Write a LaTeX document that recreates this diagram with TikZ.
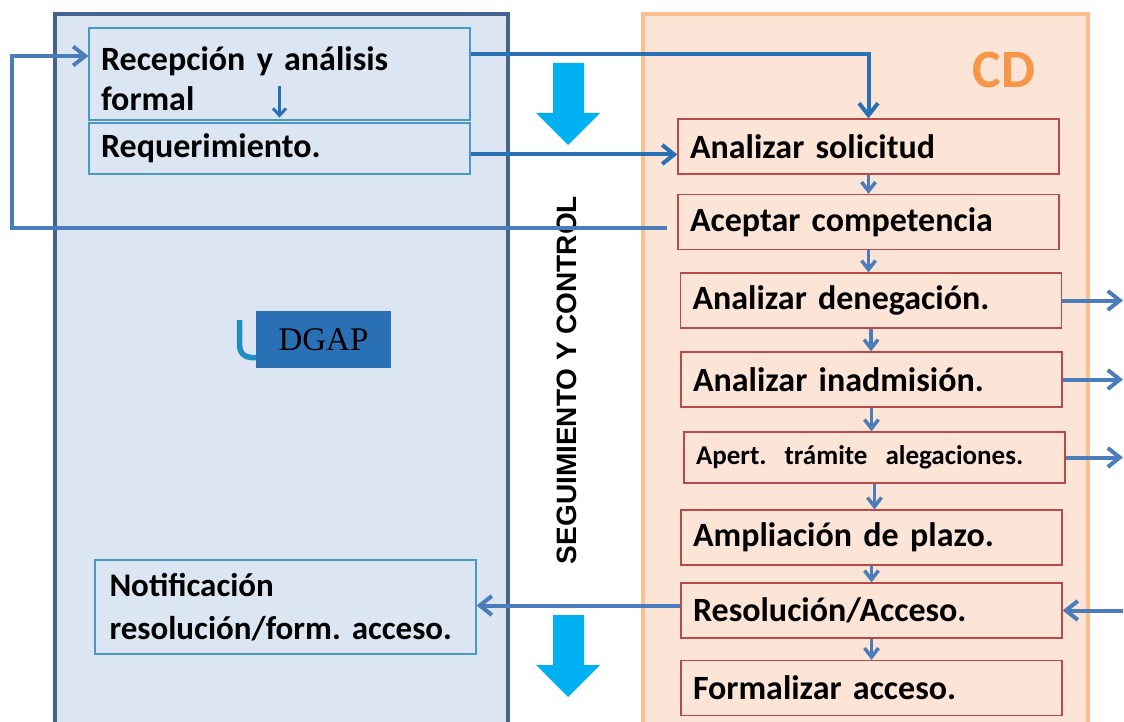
\documentclass[tikz,border=0pt]{standalone}
\usepackage{fontspec}
\setmainfont{Carlito}[WordSpace=0.75]
\newfontfamily\dgapfont{Liberation Serif}
\newfontfamily\segfont{Liberation Sans}
\usetikzlibrary{arrows.meta}
\definecolor{panelblue}{HTML}{DCE6F2}
\definecolor{paneledge}{HTML}{44648F}
\definecolor{panelpeach}{HTML}{FCE4D6}
\definecolor{peachedge}{HTML}{F9BF8F}
\definecolor{boxred}{HTML}{B94A48}
\definecolor{boxblue}{HTML}{4A98C6}
\definecolor{flowblue}{HTML}{2A70B4}
\definecolor{stepblue}{HTML}{4A7DBA}
\definecolor{cyanarrow}{HTML}{00B0F0}
\definecolor{cdorange}{HTML}{F79646}
\frenchspacing

\begin{document}
\begin{tikzpicture}[x=1pt,y=-1pt,
    cdbox/.style={draw=boxred,fill=panelpeach,line width=1.2pt,minimum height=55pt,
      text width=357pt,inner xsep=12pt,align=left,
      font=\bfseries\fontsize{34}{38}\selectfont},
    dgbox/.style={draw=boxblue,line width=1.2pt,text width=357pt,inner xsep=12pt,
      align=left,font=\bfseries\fontsize{34}{40}\selectfont},
    flow/.style={draw=flowblue,line width=4pt,-{Straight Barb[length=12pt,width=19pt]}},
    stepflow/.style={draw=stepblue,line width=4pt,-{Straight Barb[length=12pt,width=19pt]}}]
  \useasboundingbox (0,0) rectangle (1124,722);
  \clip (0,0) rectangle (1124,722);

  % panels
  \draw[paneledge,fill=panelblue,line width=4pt] (55,14) rectangle (508,760);
  \draw[peachedge,fill=panelpeach,line width=3.5pt] (643,14) rectangle (1088,760);
  \node[text=cdorange,font=\bfseries\fontsize{54}{54}\selectfont] (cd) at (1004,70) {CD};

  % DGAP
  \draw[flowblue!80!cyan,line width=5.5pt] (239.5,320) -- (239.5,346)
    arc[start angle=180,end angle=90,radius=11.5] -- (258,357.5);
  \node[fill=flowblue,minimum width=135pt,minimum height=57pt,
    font=\dgapfont\fontsize{33}{33}\selectfont] (dgap) at (323.5,339.5) {DGAP\hspace{9pt}};

  % seguimiento
  \foreach \ya in {63,615}
    \fill[cyanarrow] (553,\ya) -- ++(31,0) -- ++(0,50) -- ++(16,0) -- ++(-32,32)
      -- ++(-32,-32) -- ++(17,0) -- cycle;
  \node[rotate=90,font=\segfont\bfseries\fontsize{28}{28}\selectfont] (seg)
    at (567,380) {SEGUIMIENTO Y CONTROL};

  % DGAP boxes
  \node[dgbox,minimum height=92pt] (recep) at (279.5,74)
    {\rule{0pt}{34pt}Recepción y análisis\\formal};
  \node[dgbox,minimum height=51pt] (req) at (279.5,148.5) {Requerimiento.};
  \node[dgbox,text width=352pt,inner xsep=14.5pt,minimum height=94pt,
    font=\bfseries\fontsize{33}{43}\selectfont] (notif) at (285.5,607)
    {Notificación\\resolución/form. acceso.};

  % CD boxes
  \node[cdbox] (sol) at (868.5,146.5) {Analizar solicitud};
  \node[cdbox] (acep) at (868.5,222) {Aceptar competencia};
  \node[cdbox] (deneg) at (871,300.5) {Analizar denegación.};
  \node[cdbox] (inad) at (871.5,379.5) {Analizar inadmisión.};
  \node[cdbox,minimum height=51pt,font=\bfseries\fontsize{27}{30}\selectfont]
    (apert) at (874.5,457.5) {Apert.\ \ trámite\ \ alegaciones.};
  \node[cdbox] (ampl) at (871.5,537.5) {Ampliación de plazo.};
  \node[cdbox] (resol) at (871.5,610.5) {Resolución/Acceso.};
  \node[cdbox] (forma) at (871.5,688) {Formalizar acceso.};

  \coordinate (edge) at (1123,0);
  \coordinate (back) at (12,140);

  % connectors
  \draw[flow,line width=3pt,-{Straight Barb[length=7pt,width=13pt]}]
    ([yshift=-12pt]recep.center) -- ([yshift=3pt]recep.south);
  \draw[flow] ([yshift=20pt]recep.east) -| (sol.north);
  \draw[flow] ([yshift=-6pt]req.east) -- ([yshift=-6pt]req.east -| sol.west);
  \draw[stepflow] ([xshift=-10pt,yshift=-6pt]acep.west) -| (back)
    |- ([yshift=18pt]recep.west);
  \draw[stepflow] ([yshift=5pt]resol.west) -- ([yshift=5pt]resol.west -| notif.east);

  \foreach \a/\b in {sol/acep,acep/deneg,deneg/inad,inad/apert,apert/ampl,ampl/resol,resol/forma}
    \draw[stepflow,line width=3.5pt,-{Straight Barb[length=9pt,width=14pt]}]
      (\a.south) -- (\a.south |- \b.north);

  \foreach \a in {deneg,inad,apert}
    \draw[stepflow] (\a.east) -- (\a.east -| edge);
  \draw[stepflow] (resol.east -| edge) -- (resol.east);
\end{tikzpicture}
\end{document}
